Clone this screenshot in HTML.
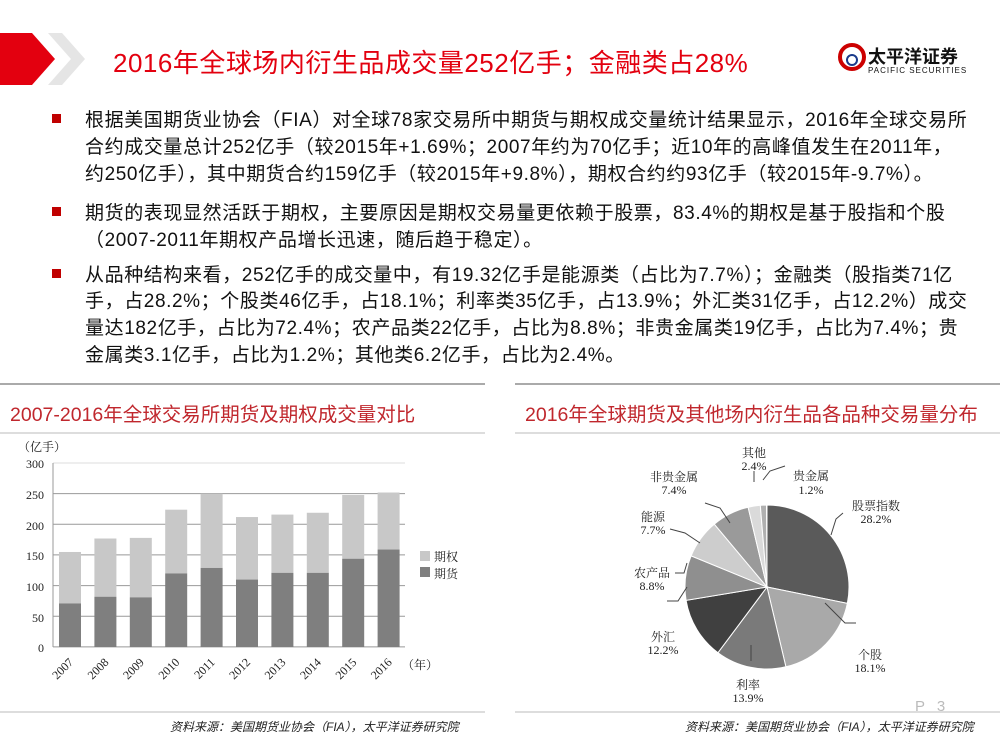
<!DOCTYPE html>
<html><head><meta charset="utf-8"><style>
body{margin:0;width:1000px;height:750px;background:#fff;position:relative;overflow:hidden;font-family:"Liberation Sans","Noto Sans CJK SC",sans-serif}
.a{position:absolute;white-space:nowrap}
.p{position:absolute;left:85px;font-size:19px;letter-spacing:0.6px;color:#111;white-space:nowrap}
.b{position:absolute;left:52px;width:9px;height:9px;background:#c00000}
</style></head><body>
<svg class="a" style="left:0;top:0" width="1000" height="750">
<polygon points="0,33 32,33 55,59 32,85 0,85" fill="#e3000f"/>
<polygon points="48,33 62,33 85,59 62,85 48,85 71,59" fill="#e5e5e5"/>
<line x1="0" y1="384" x2="485" y2="384" stroke="#aaa" stroke-width="2"/>
<line x1="0" y1="433" x2="485" y2="433" stroke="#bbb"/>
<line x1="515" y1="384" x2="1000" y2="384" stroke="#aaa" stroke-width="2"/>
<line x1="515" y1="433" x2="1000" y2="433" stroke="#bbb"/>
<line x1="0" y1="712" x2="485" y2="712" stroke="#bbb"/>
<line x1="515" y1="712" x2="1000" y2="712" stroke="#bbb"/>
<circle cx="852" cy="57" r="12" fill="none" stroke="#c00" stroke-width="4"/>
<circle cx="852" cy="60" r="5" fill="none" stroke="#1a3a8a" stroke-width="2"/>
</svg>
<div class="a" style="left:113px;top:43px;font-size:26px;letter-spacing:0.5px;color:#e3000f">2016年全球场内衍生品成交量252亿手；金融类占28%</div>
<div class="a" style="left:868px;top:43px;font-size:18px;font-weight:bold;color:#111">太平洋证券</div>
<div class="a" style="left:868px;top:66px;font-size:8px;color:#111;letter-spacing:1px">PACIFIC SECURITIES</div>

<div class="b" style="top:114px"></div>
<div class="p" style="top:105px">根据美国期货业协会（FIA）对全球78家交易所中期货与期权成交量统计结果显示，2016年全球交易所</div>
<div class="p" style="top:132px">合约成交量总计252亿手（较2015年+1.69%；2007年约为70亿手；近10年的高峰值发生在2011年，</div>
<div class="p" style="top:159px">约250亿手），其中期货合约159亿手（较2015年+9.8%），期权合约约93亿手（较2015年-9.7%）。</div>
<div class="b" style="top:207px"></div>
<div class="p" style="top:198px">期货的表现显然活跃于期权，主要原因是期权交易量更依赖于股票，83.4%的期权是基于股指和个股</div>
<div class="p" style="top:225px">（2007-2011年期权产品增长迅速，随后趋于稳定）。</div>
<div class="b" style="top:269px"></div>
<div class="p" style="top:260px">从品种结构来看，252亿手的成交量中，有19.32亿手是能源类（占比为7.7%）；金融类（股指类71亿</div>
<div class="p" style="top:286px">手，占28.2%；个股类46亿手，占18.1%；利率类35亿手，占13.9%；外汇类31亿手，占12.2%）成交</div>
<div class="p" style="top:313px">量达182亿手，占比为72.4%；农产品类22亿手，占比为8.8%；非贵金属类19亿手，占比为7.4%；贵</div>
<div class="p" style="top:340px">金属类3.1亿手，占比为1.2%；其他类6.2亿手，占比为2.4%。</div>

<div class="a" style="left:10px;top:398px;font-size:19.5px;color:#c0272d">2007-2016年全球交易所期货及期权成交量对比</div>
<div class="a" style="left:525px;top:398px;font-size:19.5px;color:#c0272d">2016年全球期货及其他场内衍生品各品种交易量分布</div>

<svg class="a" style="left:0;top:433px" width="500" height="280" font-family="Liberation Serif,Noto Serif CJK SC,serif" font-size="12" fill="#222">
<text x="18" y="18">（亿手）</text>
<g stroke="#999">
<line x1="53" y1="30" x2="405" y2="30" stroke="#ddd"/>
<line x1="53" y1="60.6" x2="405" y2="60.6"/><line x1="53" y1="91.3" x2="405" y2="91.3"/>
<line x1="53" y1="121.9" x2="405" y2="121.9"/><line x1="53" y1="152.6" x2="405" y2="152.6"/>
<line x1="53" y1="183.2" x2="405" y2="183.2"/><line x1="53" y1="213.9" x2="405" y2="213.9"/>
<line x1="53" y1="30" x2="53" y2="214"/>
</g>
<g text-anchor="end"><text x="44" y="35">300</text><text x="44" y="66">250</text><text x="44" y="97">200</text><text x="44" y="127">150</text><text x="44" y="158">100</text><text x="44" y="189">50</text><text x="44" y="219">0</text></g>
<g id="bars"></g>
<rect x="420" y="118" width="10" height="10" fill="#c8c8c8"/><rect x="420" y="134" width="10" height="10" fill="#7f7f7f"/>
<text x="434" y="128">期权</text><text x="434" y="145">期货</text>
<text x="402" y="236">（年）</text>
</svg>
<script>
var d=[[71,155],[82,177],[81,178],[120,224],[129,250],[110,212],[121,216],[121,219],[144,248],[159,252]],s='',k=0.613,b=214;
d.forEach(function(v,i){var c=70+i*35.4;s+='<rect x="'+(c-11)+'" y="'+(b-v[1]*k)+'" width="22" height="'+((v[1]-v[0])*k)+'" fill="#c8c8c8"/><rect x="'+(c-11)+'" y="'+(b-v[0]*k)+'" width="22" height="'+(v[0]*k)+'" fill="#7f7f7f"/><text transform="translate('+(c+4)+',230) rotate(-45)" text-anchor="end">'+(2007+i)+'</text>';});
document.getElementById('bars').innerHTML=s;
</script>

<svg class="a" style="left:500px;top:433px" width="500" height="280" font-family="Liberation Serif,Noto Serif CJK SC,serif" font-size="12" fill="#222" text-anchor="middle">
<g id="pie" stroke="#fff" stroke-width="1"></g>
<g stroke="#444" fill="none">
<polyline points="343,80 336,86 331,102"/><polyline points="325,170 345,190 356,190"/><polyline points="251,212 251,228"/>
<polyline points="167,168 178,168 187,154"/><polyline points="175,140 184,140 187,130"/><polyline points="170,96 185,100 200,110"/>
<polyline points="205,70 220,75 230,90"/><polyline points="254,49 254,38"/><polyline points="263,47 270,38 285,33"/>
</g>
<text x="376" y="77">股票指数</text><text x="376" y="90">28.2%</text>
<text x="370" y="226">个股</text><text x="370" y="239">18.1%</text>
<text x="248" y="256">利率</text><text x="248" y="269">13.9%</text>
<text x="163" y="208">外汇</text><text x="163" y="221">12.2%</text>
<text x="152" y="144">农产品</text><text x="152" y="157">8.8%</text>
<text x="153" y="88">能源</text><text x="153" y="101">7.7%</text>
<text x="174" y="48">非贵金属</text><text x="174" y="61">7.4%</text>
<text x="254" y="24">其他</text><text x="254" y="37">2.4%</text>
<text x="311" y="47">贵金属</text><text x="311" y="61">1.2%</text>
</svg>
<script>
var p=[[28.2,'#5a5a5a'],[18.1,'#a9a9a9'],[13.9,'#7a7a7a'],[12.2,'#404040'],[8.8,'#8f8f8f'],[7.7,'#cdcdcd'],[7.4,'#9a9a9a'],[2.4,'#dadada'],[1.2,'#b0b0b0']],a=0,h='',cx=267,cy=154,r=82;
p.forEach(function(q){var a0=a/100*2*Math.PI,a1=(a+q[0])/100*2*Math.PI;a+=q[0];
var x0=cx+r*Math.sin(a0),y0=cy-r*Math.cos(a0),x1=cx+r*Math.sin(a1),y1=cy-r*Math.cos(a1);
h+='<path d="M'+cx+','+cy+' L'+x0+','+y0+' A'+r+','+r+' 0 '+(q[0]>50?1:0)+' 1 '+x1+','+y1+' Z" fill="'+q[1]+'"/>';});
document.getElementById('pie').innerHTML=h;
</script>

<div class="a" style="left:170px;top:718px;font-size:12px;font-style:italic;color:#222">资料来源：美国期货业协会（FIA），太平洋证券研究院</div>
<div class="a" style="left:685px;top:718px;font-size:12px;font-style:italic;color:#222">资料来源：美国期货业协会（FIA），太平洋证券研究院</div>
<div class="a" style="left:915px;top:698px;font-size:15px;color:#bbb;letter-spacing:4px">P 3</div>
</body></html>
